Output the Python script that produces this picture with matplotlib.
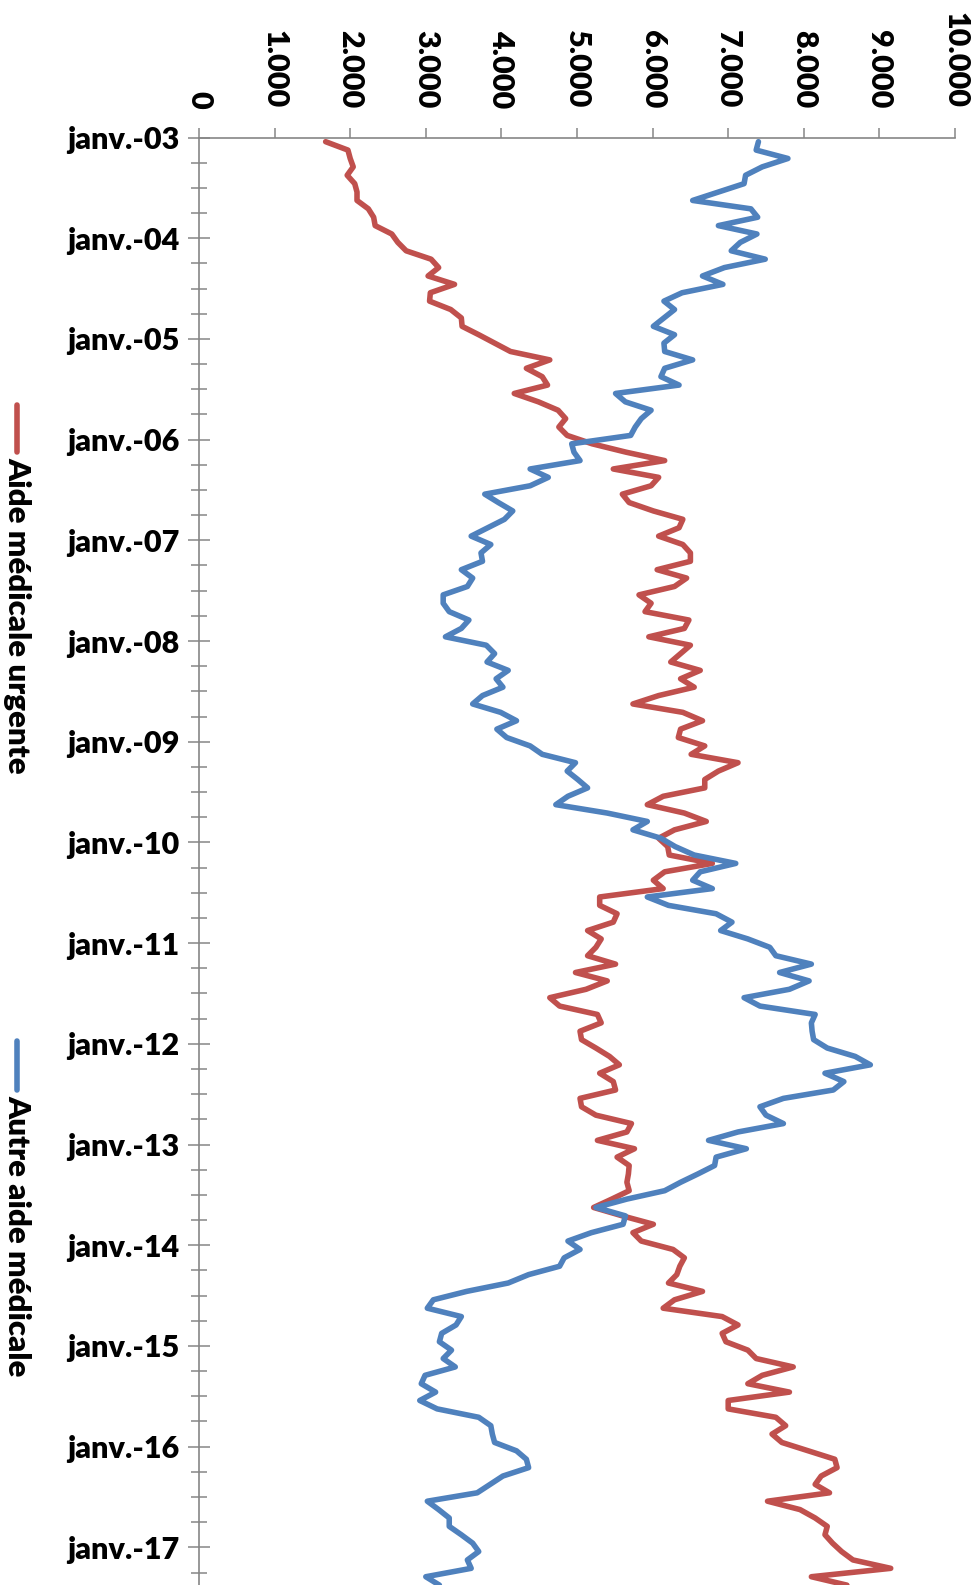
import numpy as np
import matplotlib
matplotlib.use("Agg")
import matplotlib.pyplot as plt
from matplotlib.lines import Line2D

plt.rcParams['font.family'] = ['Lato', 'DejaVu Sans']

# monthly values from janv.-03
aide_urgente = [
    1675, 1970, 2000, 2040, 1960, 2060, 2090, 2090, 2240, 2310, 2330, 2550,
    2630, 2740, 3070, 3170, 3030, 3380, 3060, 3050, 3330, 3470, 3480, 3700,
    3910, 4120, 4640, 4330, 4540, 4610, 4170, 4490, 4750, 4850, 4760, 4870,
    5200, 5650, 6160, 5480, 6080, 5980, 5600, 5690, 6010, 6400, 6350, 6080,
    6400, 6500, 6500, 6060, 6450, 6290, 5820, 5980, 5900, 6480, 6420, 5950,
    6500, 6370, 6240, 6630, 6370, 6550, 6080, 5740, 6400, 6660, 6370, 6340,
    6690, 6510, 7130, 6870, 6690, 6690, 6140, 5930, 6420, 6710, 6290, 6080,
    6200, 6220, 6790, 6160, 6010, 6140, 5300, 5300, 5530, 5480, 5140, 5320,
    5250, 5140, 5510, 4980, 5400, 5120, 4640, 4770, 5270, 5320, 5040, 5060,
    5250, 5430, 5560, 5300, 5480, 5510, 5040, 5060, 5250, 5720, 5660, 5270,
    5760, 5530, 5690, 5680, 5660, 5690, 5460, 5220, 5600, 6010, 5740, 5850,
    6270, 6420, 6360, 6320, 6210, 6660, 6290, 6140, 6920, 7130, 6920, 6970,
    7260, 7370, 7860, 7450, 7260, 7810, 7000, 7000, 7630, 7760, 7580, 7710,
    8060, 8410, 8440, 8230, 8150, 8340, 7520, 7950, 8150, 8310, 8280, 8380,
    8500, 8650, 9150, 8100, 8570,
]
autre_aide = [
    7400, 7370, 7790, 7450, 7230, 7210, 6870, 6530, 7300, 7390, 6870, 7380,
    7160, 7040, 7490, 6950, 6660, 6930, 6390, 6150, 6290, 6150, 6010, 6290,
    6150, 6160, 6530, 6160, 6110, 6350, 5510, 5640, 5980, 5850, 5770, 5710,
    4930, 4960, 5040, 4380, 4620, 4380, 3780, 3960, 4150, 4040, 3820, 3600,
    3860, 3730, 3750, 3470, 3620, 3550, 3230, 3230, 3310, 3570, 3470, 3260,
    3800, 3910, 3810, 4090, 3930, 4020, 3750, 3620, 3990, 4200, 3940, 4070,
    4380, 4540, 4980, 4870, 5010, 5140, 4880, 4720, 5400, 5930, 5740, 6110,
    6300, 6550, 7100, 6630, 6530, 6790, 5930, 6210, 6840, 7050, 6900, 7260,
    7550, 7630, 8100, 7680, 8070, 7810, 7210, 7420, 8150, 8100, 8110, 8130,
    8310, 8680, 8880, 8280, 8530, 8390, 7730, 7420, 7500, 7730, 7130, 6740,
    7240, 6840, 6820, 6600, 6370, 6160, 5660, 5250, 5640, 5610, 5190, 4880,
    5040, 4830, 4770, 4360, 4090, 3540, 3100, 3020, 3470, 3400, 3210, 3180,
    3340, 3230, 3390, 2990, 2940, 3130, 2920, 3150, 3700, 3860, 3880, 3910,
    4200, 4330, 4360, 4020, 3850, 3680, 3020, 3170, 3310, 3310, 3470, 3620,
    3700, 3550, 3600, 3000, 3180,
]
series_names = ["Aide médicale urgente", "Autre aide médicale"]
colors = ["#C0504D", "#4F81BD"]
year_labels = ["janv.-%02d" % y for y in range(3, 18)]
value_ticks = list(range(0, 10001, 1000))
value_labels = ["0"] + ["{:,}".format(v).replace(",", ".") for v in value_ticks[1:]]

W, H = 979, 1585
fig = plt.figure(figsize=(W / 100, H / 100), dpi=100)
px_month = 8.392
top_px = 137.5
n_months = (H - top_px) / px_month
ax = fig.add_axes([199 / W, 0, (955 - 199) / W, 1 - top_px / H])

months = np.arange(len(aide_urgente)) + 0.5
for vals, c in zip([aide_urgente, autre_aide], colors):
    ax.plot(vals, months, color=c, lw=4.0, solid_joinstyle='round',
            solid_capstyle='round')

ax.set_xlim(0, 10000)
ax.set_ylim(n_months, 0)

grey = "#868686"
for s in ["right", "bottom"]:
    ax.spines[s].set_visible(False)
for s in ["top", "left"]:
    ax.spines[s].set_color(grey)
    ax.spines[s].set_linewidth(1.2)

ax.xaxis.tick_top()
ax.set_xticks(value_ticks)
ax.set_xticklabels(value_labels, rotation=270, fontsize=22, fontweight='heavy',
                   ha='center', va='bottom')
ax.tick_params(axis='x', direction='out', length=7, width=1.1, color=grey, pad=14)

ax.set_yticks(np.arange(0, 12 * len(year_labels), 12))
ax.set_yticklabels(year_labels, fontsize=22, fontweight='heavy',
                   va='center_baseline')
ax.set_yticks(np.arange(0, 173, 3), minor=True)
ax.tick_params(axis='y', which='major', direction='inout', length=16, width=1.1,
               color=grey, pad=6)
ax.tick_params(axis='y', which='minor', direction='inout', length=11, width=1.1,
               color=grey)

# legend, rotated like the rest of the chart
leg = [(405, 452, 457), (1041, 1090, 1095)]
for (y0, y1, ty), name, c in zip(leg, series_names, colors):
    fig.add_artist(Line2D([17 / W, 17 / W], [1 - y0 / H, 1 - y1 / H], color=c,
                          lw=4.0, solid_capstyle='round'))
    fig.text(17 / W, 1 - ty / H, name, rotation=270, fontsize=22.5,
             fontweight='heavy', ha='center', va='top')

fig.savefig("out.png", dpi=100)
